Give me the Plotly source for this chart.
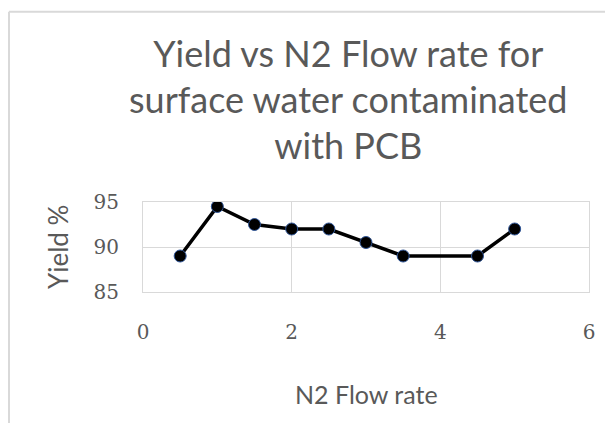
import plotly.graph_objects as go

flow_rate = [0.5, 1.0, 1.5, 2.0, 2.5, 3.0, 3.5, 4.5, 5.0]
yield_pct = [89.0, 94.5, 92.5, 92.0, 92.0, 90.5, 89.0, 89.0, 92.0]
x_ticks = [0, 2, 4, 6]
y_ticks = [85, 90, 95]

title_lines = ["Yield vs N2 Flow rate for", "surface water contaminated", "with PCB"]
x_title = "N2 Flow rate"
y_title = "Yield %"

# page has an 8px body margin; figure sized to fit the 613x423 window
OFF = 8
W, H = 605, 415
L, T, pw, ph = 135, 194, 446, 90
R, B = W - L - pw, H - T - ph


def px(x):
    return (x - OFF - L) / pw


def py(y):
    return (T + ph - (y - OFF)) / ph


fig = go.Figure()
fig.add_trace(go.Scatter(
    x=flow_rate, y=yield_pct, mode="lines+markers",
    line=dict(color="black", width=3.5),
    marker=dict(color="black", size=12, line=dict(color="#2f5597", width=1)),
    showlegend=False,
))

grid = "#d9d9d9"
text_gray = "#595959"
fig.update_layout(
    width=W, height=H,
    margin=dict(l=L, r=R, t=T, b=B, pad=0),
    paper_bgcolor="white", plot_bgcolor="white",
    font=dict(family="Lato", color=text_gray),
    xaxis=dict(range=[0, 6], tickvals=x_ticks, showgrid=True, gridcolor=grid, gridwidth=1,
               showline=True, linecolor=grid, mirror=True, zeroline=False, ticks="",
               ticklabelstandoff=22,
               tickfont=dict(family="DejaVu Serif", size=20, color=text_gray)),
    yaxis=dict(range=[85, 95], tickvals=y_ticks, showgrid=True, gridcolor=grid, gridwidth=1,
               showline=True, linecolor=grid, mirror=True, zeroline=False, ticks="",
               ticklabelstandoff=19,
               tickfont=dict(family="DejaVu Serif", size=20, color=text_gray)),
)

# chart title (line spacing from base size, glyph size from span)
title_html = "<br>".join(f'<span style="font-size:36px">{t}</span>' for t in title_lines)
fig.add_annotation(text=title_html, xref="paper", yref="paper", x=px(348), y=py(99),
                   xanchor="center", yanchor="middle", showarrow=False, align="center",
                   font=dict(family="Lato", size=35.4, color=text_gray))
# axis titles
fig.add_annotation(text=x_title, xref="paper", yref="paper", x=px(366), y=py(394),
                   xanchor="center", yanchor="middle", showarrow=False,
                   font=dict(family="Lato", size=25, color=text_gray))
fig.add_annotation(text=y_title, xref="paper", yref="paper", x=px(58), y=py(247),
                   xanchor="center", yanchor="middle", showarrow=False, textangle=-90,
                   font=dict(family="Lato", size=26, color=text_gray))

# outer chart-area border (top and left edges visible)
bx, by = px(OFF + 1), py(11.7)
fig.add_shape(type="line", xref="paper", yref="paper", x0=bx, x1=px(W + OFF + 5), y0=by, y1=by,
              line=dict(color="#d9d9d9", width=2))
fig.add_shape(type="line", xref="paper", yref="paper", x0=bx, x1=bx, y0=by, y1=py(H + OFF + 5),
              line=dict(color="#d9d9d9", width=2))

fig.write_html("out.html")
